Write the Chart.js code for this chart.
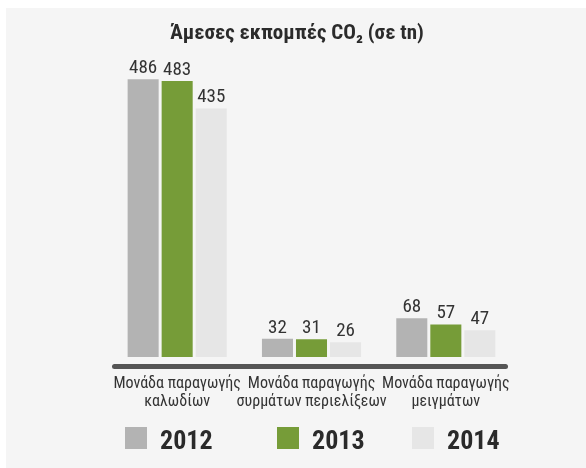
<!DOCTYPE html>
<html>
<head>
<meta charset="utf-8">
<script src="https://cdn.jsdelivr.net/npm/chart.js@4/dist/chart.umd.min.js"></script>
<style>
  html, body { margin: 0; padding: 0; background: #ffffff; }
  #wrap { width: 586px; height: 468px; position: relative; }
</style>
</head>
<body>
<div id="wrap"><canvas id="c" width="586" height="468"></canvas></div>
<script>
const titleText = "Άμεσες εκπομπές CO₂ (σε tn)";
const categories = [
  ["Μονάδα παραγωγής", "καλωδίων"],
  ["Μονάδα παραγωγής", "συρμάτων περιελίξεων"],
  ["Μονάδα παραγωγής", "μειγμάτων"]
];
const years = ["2012", "2013", "2014"];
const values2012 = [486, 32, 68];
const values2013 = [483, 31, 57];
const values2014 = [435, 26, 47];
const seriesColors = ["#b3b3b3", "#769c38", "#e6e6e6"];

const FONT = "'Roboto Condensed', 'DejaVu Sans Condensed', sans-serif";

const bgPlugin = {
  id: 'bgPanel',
  beforeDraw(chart) {
    const ctx = chart.ctx;
    ctx.save();
    ctx.fillStyle = '#ffffff';
    ctx.fillRect(0, 0, chart.width, chart.height);
    ctx.fillStyle = '#f5f5f5';
    ctx.fillRect(6, 8, chart.width - 6, chart.height - 8);
    ctx.restore();
  }
};

const axisLinePlugin = {
  id: 'axisLine',
  afterDatasetsDraw(chart) {
    const ctx = chart.ctx;
    const xs = chart.scales.x;
    const y = chart.chartArea.bottom + 9.5;
    ctx.save();
    ctx.strokeStyle = '#555555';
    ctx.lineWidth = 5;
    ctx.lineCap = 'round';
    ctx.beginPath();
    ctx.moveTo(xs.left + 4.5, y);
    ctx.lineTo(xs.right - 7.5, y);
    ctx.stroke();
    ctx.restore();
  }
};

const valueLabelPlugin = {
  id: 'valueLabels',
  afterDatasetsDraw(chart) {
    const ctx = chart.ctx;
    ctx.save();
    ctx.font = "19px " + FONT;
    ctx.fillStyle = '#333333';
    ctx.textAlign = 'center';
    ctx.textBaseline = 'alphabetic';
    chart.data.datasets.forEach((ds, di) => {
      const meta = chart.getDatasetMeta(di);
      meta.data.forEach((bar, i) => {
        ctx.fillText(String(ds.data[i]), bar.x, bar.y - 6);
      });
    });
    ctx.restore();
  }
};

const legendPlugin = {
  id: 'customLegend',
  afterDraw(chart, args, opts) {
    const ctx = chart.ctx;
    ctx.save();
    chart.data.datasets.forEach((ds, i) => {
      const x = opts.xs[i];
      const y = opts.y;
      ctx.fillStyle = ds.backgroundColor;
      ctx.fillRect(x, y, 22, 22);
      ctx.fillStyle = '#2a2a2a';
      ctx.font = "bold 26px " + FONT;
      ctx.textAlign = 'left';
      ctx.textBaseline = 'alphabetic';
      ctx.fillText(ds.label, x + 35, y + 22);
    });
    ctx.restore();
  }
};

const hiddenAxis = (pos, w) => ({
  position: pos,
  display: true,
  min: 0,
  max: 500,
  grid: { display: false, drawTicks: false },
  border: { display: false },
  ticks: { display: false },
  afterFit(scale) { scale.width = w; }
});

new Chart(document.getElementById('c'), {
  type: 'bar',
  data: {
    labels: categories,
    datasets: [
      { label: years[0], data: values2012, backgroundColor: seriesColors[0] },
      { label: years[1], data: values2013, backgroundColor: seriesColors[1] },
      { label: years[2], data: values2014, backgroundColor: seriesColors[2] }
    ]
  },
  options: {
    responsive: false,
    animation: false,
    devicePixelRatio: 1,
    layout: { padding: { top: 8, left: 8, right: 0, bottom: 39 } },
    datasets: {
      bar: { categoryPercentage: 0.76, barPercentage: 0.912, borderWidth: 0 }
    },
    plugins: {
      legend: { display: false },
      tooltip: { enabled: false },
      title: {
        display: true,
        text: titleText,
        color: '#2b2b2b',
        font: { family: FONT, size: 21, weight: 'bold', lineHeight: 1.25 },
        padding: { top: 13, bottom: 24 }
      },
      customLegend: { xs: [125, 277, 412], y: 427 }
    },
    scales: {
      x: {
        grid: { display: false, drawTicks: false },
        border: { display: false },
        ticks: {
          color: '#333333',
          font: { family: FONT, size: 16, lineHeight: 1.125 },
          padding: 18,
          maxRotation: 0,
          autoSkip: false
        }
      },
      y: Object.assign({ type: 'linear' }, hiddenAxis('left', 102)),
      yRight: Object.assign({ type: 'linear' }, hiddenAxis('right', 73))
    }
  },
  plugins: [bgPlugin, axisLinePlugin, valueLabelPlugin, legendPlugin]
});
</script>
</body>
</html>
